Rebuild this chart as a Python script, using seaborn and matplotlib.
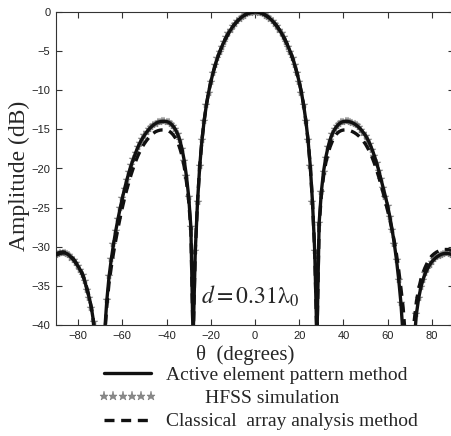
import matplotlib
matplotlib.use("Agg")
import matplotlib.pyplot as plt
from matplotlib.lines import Line2D
import seaborn as sns
import pandas as pd

theta_deg = list(range(-90, 91))

active_db = [
    -31.05, -30.95, -30.85, -30.8, -30.8, -30.9, -31.1, -31.4, -31.7, -32.1,
    -32.5, -33.0, -33.6, -34.4, -35.5, -36.5, -37.8, -39.6, -44.0, -47.0,
    -46.0, -45.0, -41.0, -36.8, -33.8, -31.6, -29.7, -28.0, -26.5, -25.1,
    -23.8, -22.6, -21.5, -20.5, -19.6, -18.8, -18.0, -17.3, -16.7, -16.2,
    -15.75, -15.35, -15.0, -14.7, -14.45, -14.25, -14.1, -14.02, -13.98, -13.97,
    -14.0, -14.1, -14.3, -14.6, -15.0, -15.6, -16.4, -17.5, -19.0, -21.0,
    -23.6, -27.5, -42.0, -30.5, -24.3, -19.7, -16.4, -13.9, -11.9, -10.3,
    -8.95, -7.8, -6.8, -5.9, -5.12, -4.42, -3.79, -3.23, -2.72, -2.26,
    -1.85, -1.49, -1.17, -0.89, -0.65, -0.45, -0.29, -0.16, -0.07, -0.02,
    0.0,
    -0.02, -0.07, -0.16, -0.29, -0.45, -0.65, -0.89, -1.17, -1.49, -1.85,
    -2.26, -2.72, -3.23, -3.79, -4.42, -5.12, -5.9, -6.8, -7.8, -8.95,
    -10.3, -11.9, -13.9, -16.4, -19.7, -24.3, -30.5, -42.0, -27.0, -23.0,
    -20.4, -18.6, -17.3, -16.3, -15.55, -15.0, -14.6, -14.3, -14.1, -14.0,
    -13.97, -13.98, -14.05, -14.15, -14.3, -14.5, -14.75, -15.05, -15.4, -15.8,
    -16.3, -16.9, -17.6, -18.4, -19.3, -20.3, -21.4, -22.5, -23.6, -24.8,
    -26.2, -27.8, -29.6, -31.7, -34.2, -37.2, -41.5, -50.0, -46.0, -45.0,
    -46.0, -42.0, -38.6, -36.6, -35.2, -34.2, -33.4, -32.8, -32.3, -31.9,
    -31.6, -31.35, -31.15, -31.0, -30.9, -30.85, -30.85, -30.9, -31.0, -31.1,
]

hfss_db = [
    -31.05, -30.95, -30.85, -30.8, -30.8, -30.9, -31.1, -31.4, -31.7, -32.1,
    -32.5, -33.0, -33.6, -34.4, -35.5, -36.5, -37.8, -39.6, -44.0, -47.0,
    -46.0, -45.0, -41.0, -36.8, -33.8, -31.6, -29.7, -28.0, -26.5, -25.1,
    -23.8, -22.6, -21.5, -20.5, -19.6, -18.8, -18.0, -17.3, -16.7, -16.2,
    -15.75, -15.35, -15.0, -14.7, -14.45, -14.25, -14.1, -14.02, -13.98, -13.97,
    -14.0, -14.1, -14.3, -14.6, -15.0, -15.6, -16.4, -17.5, -19.0, -21.0,
    -23.6, -27.5, -42.0, -30.5, -24.3, -19.7, -16.4, -13.9, -11.9, -10.3,
    -8.95, -7.8, -6.8, -5.9, -5.12, -4.42, -3.79, -3.23, -2.72, -2.26,
    -1.85, -1.49, -1.17, -0.89, -0.65, -0.45, -0.29, -0.16, -0.07, -0.02,
    0.0,
    -0.02, -0.07, -0.16, -0.29, -0.45, -0.65, -0.89, -1.17, -1.49, -1.85,
    -2.26, -2.72, -3.23, -3.79, -4.42, -5.12, -5.9, -6.8, -7.8, -8.95,
    -10.3, -11.9, -13.9, -16.4, -19.7, -24.3, -30.5, -42.0, -27.0, -23.0,
    -20.4, -18.6, -17.3, -16.3, -15.55, -15.0, -14.6, -14.3, -14.1, -14.0,
    -13.97, -13.98, -14.05, -14.15, -14.3, -14.5, -14.75, -15.05, -15.4, -15.8,
    -16.3, -16.9, -17.6, -18.4, -19.3, -20.3, -21.4, -22.5, -23.6, -24.8,
    -26.2, -27.8, -29.6, -31.7, -34.2, -37.2, -41.5, -50.0, -46.0, -45.0,
    -46.0, -42.0, -38.6, -36.6, -35.2, -34.2, -33.4, -32.8, -32.3, -31.9,
    -31.6, -31.35, -31.15, -31.0, -30.9, -30.85, -30.85, -30.9, -31.0, -31.1,
]

classical_db = [
    -30.9, -30.8, -30.7, -30.65, -30.7, -30.8, -31.0, -31.3, -31.6, -32.0,
    -32.4, -32.9, -33.5, -34.3, -35.3, -36.4, -37.8, -39.8, -44.0, -48.0,
    -47.0, -45.0, -41.5, -37.5, -34.6, -32.6, -30.8, -29.2, -27.7, -26.3,
    -25.0, -23.8, -22.7, -21.7, -20.75, -19.9, -19.1, -18.4, -17.8, -17.25,
    -16.8, -16.4, -16.05, -15.75, -15.5, -15.3, -15.18, -15.1, -15.07, -15.07,
    -15.1, -15.2, -15.4, -15.7, -16.1, -16.6, -17.4, -18.4, -19.8, -21.7,
    -24.1, -27.8, -42.0, -30.5, -24.3, -19.7, -16.4, -13.9, -11.9, -10.3,
    -8.95, -7.8, -6.8, -5.9, -5.12, -4.42, -3.79, -3.23, -2.72, -2.26,
    -1.85, -1.49, -1.17, -0.89, -0.65, -0.45, -0.29, -0.16, -0.07, -0.02,
    0.0,
    -0.02, -0.07, -0.16, -0.29, -0.45, -0.65, -0.89, -1.17, -1.49, -1.85,
    -2.26, -2.72, -3.23, -3.79, -4.42, -5.12, -5.9, -6.8, -7.8, -8.95,
    -10.3, -11.9, -13.9, -16.4, -19.7, -24.3, -30.5, -42.0, -27.3, -23.5,
    -21.0, -19.3, -18.1, -17.2, -16.5, -15.95, -15.55, -15.3, -15.15, -15.08,
    -15.07, -15.1, -15.17, -15.28, -15.43, -15.62, -15.86, -16.15, -16.5, -16.9,
    -17.4, -17.95, -18.6, -19.35, -20.2, -21.1, -22.1, -23.15, -24.25, -25.4,
    -26.6, -27.9, -29.3, -31.0, -33.0, -35.3, -37.8, -41.5, -48.0, -50.0,
    -44.0, -39.5, -37.0, -35.4, -34.2, -33.3, -32.6, -32.0, -31.5, -31.15,
    -30.9, -30.7, -30.55, -30.45, -30.4, -30.35, -30.35, -30.4, -30.45, -30.5,
]

x_ticks = [-80, -60, -40, -20, 0, 20, 40, 60, 80]
y_ticks = [0, -5, -10, -15, -20, -25, -30, -35, -40]
legend_labels = ["Active element pattern method",
                 "        HFSS simulation",
                 "Classical  array analysis method"]

df = pd.DataFrame({"theta": theta_deg, "active": active_db,
                   "hfss": hfss_db, "classical": classical_db})

sns.set_style("ticks")
plt.rcParams["font.family"] = ["Liberation Serif", "DejaVu Serif"]
plt.rcParams["mathtext.fontset"] = "stix"

fig = plt.figure(figsize=(4.51, 4.36), dpi=100)
ax = fig.add_axes([56 / 451, 111 / 436, 398 / 451, 313 / 436])

sns.lineplot(data=df, x="theta", y="hfss", ax=ax, color="#8a8a8a",
             linestyle="none", marker="*", markersize=6,
             markeredgewidth=0.3, markeredgecolor="#6a6a6a", zorder=2)
sns.lineplot(data=df, x="theta", y="classical", ax=ax, color="#111111",
             linewidth=2.4, linestyle=(0, (3, 2)), zorder=3)
sns.lineplot(data=df, x="theta", y="active", ax=ax, color="#111111",
             linewidth=2.4, zorder=4)

ax.set_xlim(-90, 90)
ax.set_ylim(-40, 0)
ax.set_xticks(x_ticks)
ax.set_yticks(y_ticks)
ax.tick_params(direction="in", top=True, right=True, length=4, width=0.8,
               color="#333333", labelsize=8, labelcolor="#222222", pad=4)
for lab in ax.get_xticklabels() + ax.get_yticklabels():
    lab.set_fontfamily("Liberation Sans")
for sp in ax.spines.values():
    sp.set_visible(True)
    sp.set_linewidth(0.8)
    sp.set_color("#333333")

ax.set_xlabel("θ  (degrees)", fontsize=15)
ax.xaxis.set_label_coords(0.475, -0.063)
ax.set_ylabel("Amplitude (dB)", fontsize=17)
ax.yaxis.set_label_coords(-0.066, 0.475)

ax.text(-2, -36.3, r"$d=0.31\mathrm{\lambda}_0$", fontsize=17,
        ha="center", va="center")

handles = [
    Line2D([], [], color="#111111", linewidth=2.4),
    Line2D([], [], color="#8a8a8a", linestyle="none", marker="*",
           markersize=6.5, markeredgecolor="#6a6a6a", markeredgewidth=0.3),
    Line2D([], [], color="#111111", linewidth=2.4, linestyle=(0, (3, 2))),
]
fig.legend(handles, legend_labels, loc="upper left",
           bbox_to_anchor=(98 / 451, 1 - 366 / 436), frameon=False,
           fontsize=14, handlelength=3.0, handletextpad=0.5,
           labelspacing=0.3, numpoints=6, borderpad=0, borderaxespad=0)

fig.savefig("out.png", dpi=100)
